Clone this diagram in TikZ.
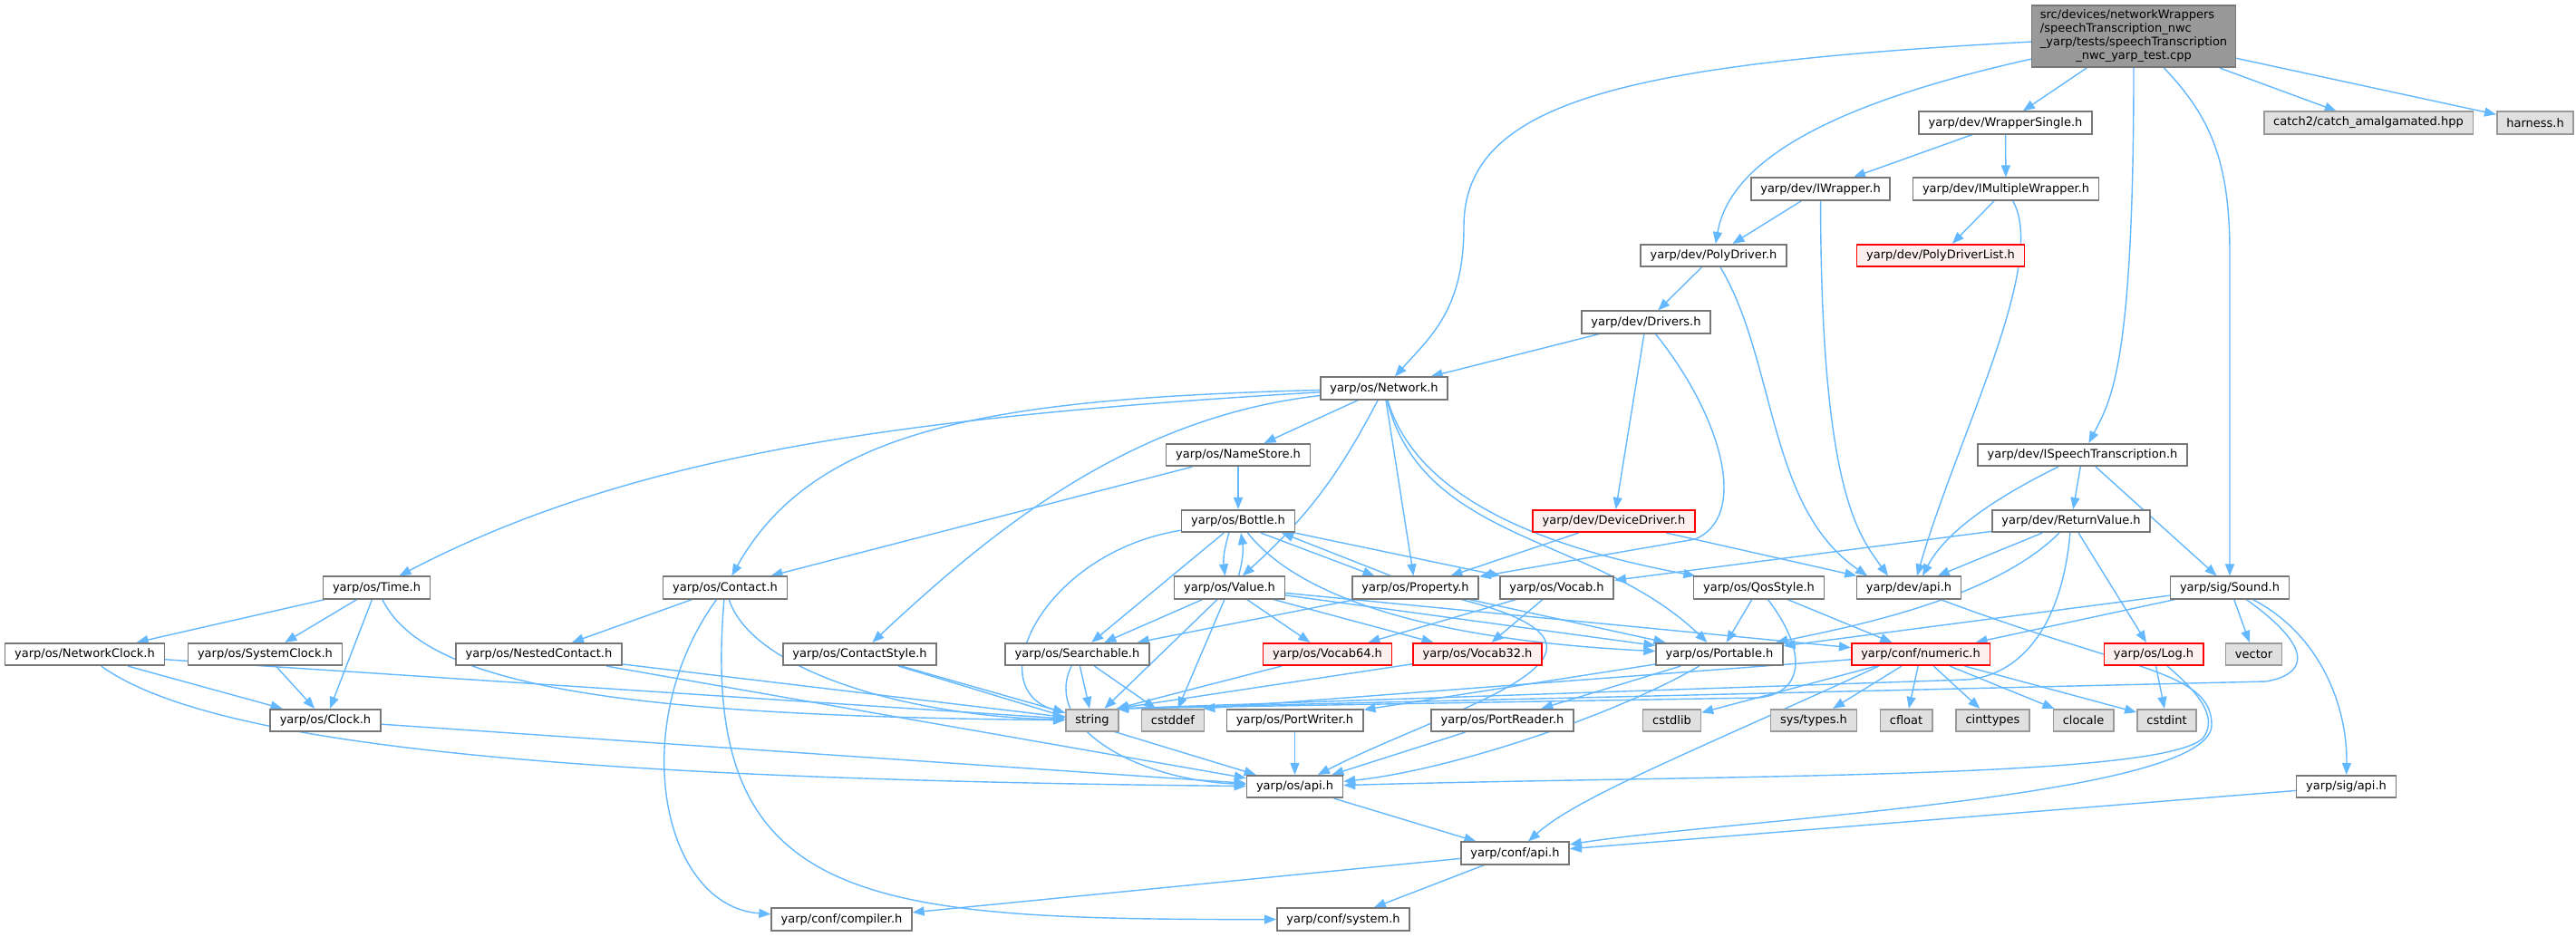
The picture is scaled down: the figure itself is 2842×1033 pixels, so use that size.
\documentclass[tikz,border=0pt]{standalone}
\usepackage{fontspec}
\setmainfont{DejaVu Sans}
\usetikzlibrary{arrows.meta}
\pgfdeclarelayer{edges}
\pgfsetlayers{edges,main}

\definecolor{depblue}{HTML}{63B8FF}
\definecolor{boxgray}{HTML}{777777}
\definecolor{sysgray}{HTML}{999999}
\definecolor{sysfill}{HTML}{E0E0E0}
\definecolor{topfill}{HTML}{999999}
\definecolor{redfill}{HTML}{FFF0F0}

\tikzset{
  filebox/.style={draw=boxgray, fill=white, line width=1.6pt, inner xsep=10.5pt, inner ysep=0pt, minimum height=24.5pt},
  sysbox/.style={filebox, draw=sysgray, fill=sysfill},
  redbox/.style={filebox, draw=red, fill=redfill},
  topbox/.style={filebox, fill=topfill, inner xsep=9.2pt, minimum height=68.4pt},
  dep/.style={draw=depblue, line width=1.4pt, -{Triangle[length=13pt,width=10pt]}}
}

\begin{document}
\begin{tikzpicture}[x=1pt,y=-1pt,font=\fontsize{13}{15}\selectfont]
\useasboundingbox (0,0) rectangle (2842,1033);
\node[topbox] (main) at (2354,40) {\begin{tabular}{@{}l@{}}src/devices/networkWrappers\\/speechTranscription\_nwc\\\_yarp/tests/speechTranscription\\\multicolumn{1}{@{}c@{}}{\_nwc\_yarp\_test.cpp}\end{tabular}};
\node[filebox] (wsingle) at (2212.5,135.5) {yarp/dev/WrapperSingle.h};
\node[sysbox] (catchh) at (2613,135.5) {catch2/catch\_amalgamated.hpp};
\node[sysbox] (harness) at (2797,135.5) {harness.h};
\node[filebox] (iwrap) at (2008.5,208.5) {yarp/dev/IWrapper.h};
\node[filebox] (imwrap) at (2213,208.5) {yarp/dev/IMultipleWrapper.h};
\node[filebox] (poly) at (1890.5,282) {yarp/dev/PolyDriver.h};
\node[redbox] (polylist) at (2141,282) {yarp/dev/PolyDriverList.h};
\node[filebox] (drivers) at (1816,355.5) {yarp/dev/Drivers.h};
\node[filebox] (network) at (1527,428.5) {yarp/os/Network.h};
\node[filebox] (namestore) at (1366,502) {yarp/os/NameStore.h};
\node[filebox] (ispeech) at (2297.5,502) {yarp/dev/ISpeechTranscription.h};
\node[filebox] (bottle) at (1366,575) {yarp/os/Bottle.h};
\node[redbox] (devdrv) at (1780.5,575) {yarp/dev/DeviceDriver.h};
\node[filebox] (retval) at (2285,575) {yarp/dev/ReturnValue.h};
\node[filebox] (time) at (415.5,648.5) {yarp/os/Time.h};
\node[filebox] (contact) at (800,648.5) {yarp/os/Contact.h};
\node[filebox] (value) at (1356.5,648.5) {yarp/os/Value.h};
\node[filebox] (property) at (1561.5,648.5) {yarp/os/Property.h};
\node[filebox] (vocab) at (1717.5,648.5) {yarp/os/Vocab.h};
\node[filebox] (qos) at (1940.5,648.5) {yarp/os/QosStyle.h};
\node[filebox] (devapi) at (2106,648.5) {yarp/dev/api.h};
\node[filebox] (sound) at (2460,648.5) {yarp/sig/Sound.h};
\node[filebox] (netclock) at (93.5,722) {yarp/os/NetworkClock.h};
\node[filebox] (sysclock) at (292.5,722) {yarp/os/SystemClock.h};
\node[filebox] (nested) at (594.5,722) {yarp/os/NestedContact.h};
\node[filebox] (cstyle) at (948.5,722) {yarp/os/ContactStyle.h};
\node[filebox] (search) at (1188.5,722) {yarp/os/Searchable.h};
\node[redbox] (vocabsf) at (1464.5,722) {yarp/os/Vocab64.h};
\node[redbox] (vocabtt) at (1630,722) {yarp/os/Vocab32.h};
\node[filebox] (portable) at (1897,722) {yarp/os/Portable.h};
\node[redbox] (numeric) at (2119,722) {yarp/conf/numeric.h};
\node[redbox] (log) at (2376,722) {yarp/os/Log.h};
\node[sysbox] (vector) at (2486.5,722) {vector};
\node[filebox] (clock) at (359,795) {yarp/os/Clock.h};
\node[sysbox] (string) at (1205,795) {string};
\node[sysbox] (cstddef) at (1294,795) {cstddef};
\node[filebox] (pwriter) at (1428.5,795) {yarp/os/PortWriter.h};
\node[filebox] (preader) at (1657.5,795) {yarp/os/PortReader.h};
\node[sysbox] (cstdlib) at (1844.5,795) {cstdlib};
\node[sysbox] (systypes) at (2001,795) {sys/types.h};
\node[sysbox] (cfloat) at (2103,795) {cfloat};
\node[sysbox] (cinttypes) at (2198.5,795) {cinttypes};
\node[sysbox] (clocale) at (2298.5,795) {clocale};
\node[sysbox] (cstdint) at (2390.5,795) {cstdint};
\node[filebox] (osapi) at (1428.5,868) {yarp/os/api.h};
\node[filebox] (sigapi) at (2588.5,868) {yarp/sig/api.h};
\node[filebox] (confapi) at (1671.5,941.5) {yarp/conf/api.h};
\node[filebox] (compiler) at (928.5,1014.5) {yarp/conf/compiler.h};
\node[filebox] (system) at (1482,1014.5) {yarp/conf/system.h};
\begin{pgfonlayer}{edges}
\fill[white] (0,0) rectangle (2842,1033);
\draw[dep] (main) -- (wsingle);
\draw[dep] (main) -- (catchh);
\draw[dep] (main) -- (harness);
\draw[dep] (main) .. controls (1800,70) and (1615,110) .. (1615,250) .. controls (1615,340) and (1580,370) .. (network);
\draw[dep] (main) .. controls (2040,110) and (1910,170) .. (poly);
\draw[dep] (main) .. controls (2354,400) and (2330,440) .. (ispeech);
\draw[dep] (main) .. controls (2440,130) and (2460,180) .. (2460,280) -- (sound);
\draw[dep] (wsingle) -- (iwrap);
\draw[dep] (wsingle) -- (imwrap);
\draw[dep] (iwrap) -- (poly);
\draw[dep] (iwrap) .. controls (2009,540) and (2050,590) .. ([xshift=-23pt]devapi.north);
\draw[dep] (imwrap) -- (polylist);
\draw[dep] (imwrap) .. controls (2260,290) and (2160,480) .. ([xshift=9pt]devapi.north);
\draw[dep] (poly) -- (drivers);
\draw[dep] (poly) .. controls (1960,400) and (1950,560) .. ([xshift=-46pt]devapi.north);
\draw[dep] (drivers) -- (network);
\draw[dep] (drivers) -- (devdrv);
\draw[dep] (drivers) .. controls (1900,460) and (1930,570) .. (1870,595) -- (property);
\draw[dep] (devdrv) -- (property);
\draw[dep] (devdrv) -- (devapi);
\draw[dep] (network) -- (namestore);
\draw[dep] (network) .. controls (1000,460) and (700,500) .. (time);
\draw[dep] (network) .. controls (1100,440) and (900,470) .. (contact);
\draw[dep] (network) .. controls (1250,460) and (1100,580) .. (cstyle);
\draw[dep] (network) to[bend left=10] (value);
\draw[dep] (network) -- (property);
\draw[dep] (network) .. controls (1570,600) and (1760,590) .. (portable);
\draw[dep] (network) .. controls (1560,540) and (1680,600) .. (qos);
\draw[dep] (namestore) -- (bottle);
\draw[dep] (namestore) -- (contact);
\draw[dep] (ispeech) -- (retval);
\draw[dep] (ispeech) .. controls (2220,540) and (2150,580) .. ([xshift=15pt]devapi.north);
\draw[dep] (ispeech) -- (sound);
\draw[dep] ([xshift=-10pt]bottle.south) to[bend right=12] ([xshift=-5pt]value.north);
\draw[dep] ([xshift=10pt]value.north) to[bend right=12] ([xshift=3pt]bottle.south);
\draw[dep] (bottle) -- (search);
\draw[dep] ([xshift=25pt]bottle.south) -- ([xshift=-45pt]property.north);
\draw[dep] ([xshift=-27pt]property.north) -- ([xshift=48pt]bottle.south);
\draw[dep] (bottle) -- (vocab);
\draw[dep] (bottle) .. controls (1150,610) and (1080,760) .. (string);
\draw[dep] (bottle) .. controls (1450,680) and (1650,710) .. (portable);
\draw[dep] (value) -- (search);
\draw[dep] (value) -- (string);
\draw[dep] (value) -- (cstddef);
\draw[dep] (value) -- (vocabsf);
\draw[dep] (value) -- (vocabtt);
\draw[dep] (value) -- (portable);
\draw[dep] (value) -- (numeric);
\draw[dep] (property) -- (search);
\draw[dep] (property) -- (portable);
\draw[dep] (property) .. controls (1840,720) and (1600,780) .. (osapi);
\draw[dep] (vocab) -- (vocabsf);
\draw[dep] (vocab) -- (vocabtt);
\draw[dep] (qos) -- (portable);
\draw[dep] (qos) -- (numeric);
\draw[dep] (qos) .. controls (1995,720) and (1990,765) .. (1940,770) -- ([xshift=-3pt]string.north east);
\draw[dep] (devapi) .. controls (2350,740) and (2440,740) .. (2440,800) .. controls (2440,880) and (1900,905) .. (confapi);
\draw[dep] (retval) -- (vocab);
\draw[dep] (retval) -- (devapi);
\draw[dep] (retval) .. controls (2200,660) and (2050,690) .. (portable);
\draw[dep] (retval) -- (log);
\draw[dep] (retval) .. controls (2275,690) and (2230,745) .. (2170,750) -- ([xshift=-3pt]string.north east);
\draw[dep] (sound) -- (portable);
\draw[dep] (sound) -- (numeric);
\draw[dep] (sound) -- (vector);
\draw[dep] (sound) .. controls (2560,700) and (2590,780) .. (sigapi);
\draw[dep] (sound) .. controls (2560,720) and (2540,745) .. (2500,752) -- ([xshift=-3pt]string.north east);
\draw[dep] (log) -- (cstdint);
\draw[dep] (log) .. controls (2420,760) and (2450,790) .. (2430,815) .. controls (2380,860) and (1900,855) .. (osapi);
\draw[dep] (numeric) -- (cstdlib);
\draw[dep] (numeric) -- (systypes);
\draw[dep] (numeric) -- (cfloat);
\draw[dep] (numeric) -- (cinttypes);
\draw[dep] (numeric) -- (clocale);
\draw[dep] (numeric) -- (cstdint);
\draw[dep] (numeric) -- ([xshift=-2pt]cstddef.north east);
\draw[dep] ([xshift=-46pt]numeric.south) .. controls (1855,835) and (1740,880) .. (confapi);
\draw[dep] (portable) -- (pwriter);
\draw[dep] (portable) -- (preader);
\draw[dep] (portable) .. controls (1780,790) and (1600,850) .. (osapi);
\draw[dep] (search) -- (string);
\draw[dep] (search) -- (cstddef);
\draw[dep] (search) .. controls (1150,800) and (1250,860) .. (osapi);
\draw[dep] (vocabsf) -- ([xshift=-3pt]string.north east);
\draw[dep] (vocabtt) -- ([xshift=-3pt]string.north east);
\draw[dep] (time) -- (netclock);
\draw[dep] (time) -- (sysclock);
\draw[dep] (time) -- (clock);
\draw[dep] (time) .. controls (470,760) and (700,790) .. (string);
\draw[dep] (netclock) -- (clock);
\draw[dep] (netclock) -- (string);
\draw[dep] (netclock) .. controls (230,820) and (600,860) .. (osapi);
\draw[dep] (sysclock) -- (clock);
\draw[dep] (clock) -- (osapi);
\draw[dep] (contact) -- (nested);
\draw[dep] (contact) .. controls (690,800) and (730,1000) .. (compiler);
\draw[dep] (contact) .. controls (770,1000) and (950,1015) .. (system);
\draw[dep] (contact) .. controls (830,740) and (1000,790) .. (string);
\draw[dep] (nested) -- (string);
\draw[dep] (nested) -- (osapi);
\draw[dep] (cstyle) -- (string);
\draw[dep] (cstyle) -- (osapi);
\draw[dep] (pwriter) -- (osapi);
\draw[dep] (preader) -- (osapi);
\draw[dep] (osapi) -- (confapi);
\draw[dep] (sigapi) -- (confapi);
\draw[dep] (confapi) -- (compiler);
\draw[dep] (confapi) -- (system);
\end{pgfonlayer}
\end{tikzpicture}
\end{document}
